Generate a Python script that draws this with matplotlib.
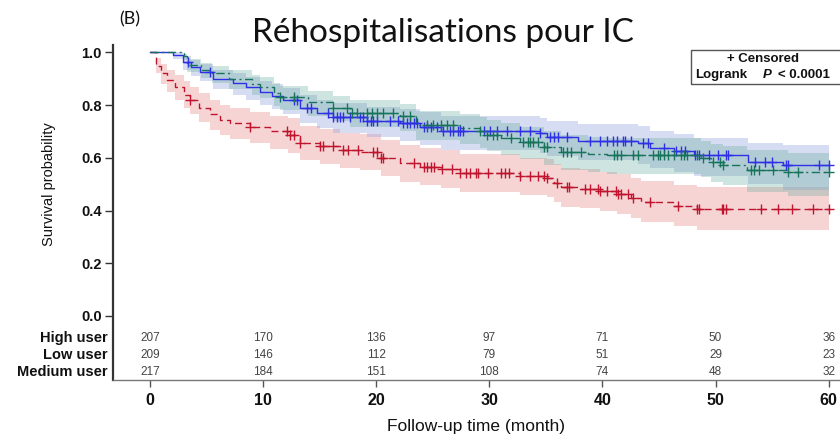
import numpy as np
import matplotlib
matplotlib.use("Agg")
import matplotlib.pyplot as plt
import matplotlib.transforms as mtransforms
from matplotlib.patches import Rectangle

# ---------------- data ----------------
groups = ["High user", "Low user", "Medium user"]

# High user (blue, solid)
high_t  = [0, 2.0, 2.9, 3.6, 4.4, 5.6, 7.3, 8.5, 9.7, 10.8, 11.8, 13.3, 14.8, 16.2, 19.2, 22.1, 23.9, 25.7, 34.5, 35.1, 37.8, 43.1, 44.2, 46.3, 48.1, 52.9, 56.0]
high_s  = [1.0, 0.99, 0.964, 0.945, 0.926, 0.90, 0.884, 0.867, 0.85, 0.835, 0.82, 0.789, 0.77, 0.755, 0.74, 0.732, 0.717, 0.70, 0.694, 0.68, 0.664, 0.655, 0.638, 0.625, 0.611, 0.585, 0.573]
high_lo = [1.0, 0.975, 0.935, 0.912, 0.89, 0.86, 0.84, 0.82, 0.80, 0.785, 0.768, 0.733, 0.712, 0.695, 0.678, 0.665, 0.648, 0.628, 0.62, 0.605, 0.59, 0.578, 0.56, 0.545, 0.53, 0.50, 0.478]
high_hi = [1.0, 1.0, 0.985, 0.97, 0.955, 0.935, 0.922, 0.907, 0.892, 0.88, 0.866, 0.838, 0.82, 0.807, 0.793, 0.787, 0.773, 0.758, 0.752, 0.74, 0.728, 0.72, 0.70, 0.69, 0.675, 0.655, 0.65]
high_cens = [3.4, 5.3, 12.7, 13.0, 13.9, 14.2, 15.7, 16.2, 16.5, 16.8, 17.1, 17.7, 18.6, 18.8, 19.2, 19.5, 19.7, 20.1,
             21.2, 21.9, 22.4, 22.7, 23.0, 23.3, 23.6, 24.2, 24.5, 24.8, 25.4, 25.9, 26.5, 26.8, 27.2, 27.4, 27.7,
             29.5, 30.1, 30.7, 31.6, 32.7, 33.6, 34.5, 35.4, 35.7, 36.1, 36.9, 38.9, 39.8, 40.4, 40.9, 41.3, 41.8,
             42.0, 42.5, 43.6, 44.0, 45.4, 46.5, 46.9, 47.3, 48.2, 48.5, 49.4, 50.2, 50.9, 51.1, 53.5, 54.4, 55.0,
             56.2, 56.4, 59.1, 60.0]

# Low user (red, dashed)
low_t  = [0, 0.5, 1.0, 1.5, 2.2, 3.0, 3.5, 4.3, 5.3, 6.2, 7.1, 8.8, 10.6, 12.2, 13.3, 15.0, 16.8, 18.6, 20.4, 22.1, 23.9, 25.7, 27.4, 32.7, 35.1, 35.7, 36.3, 38.0, 39.8, 41.3, 42.5, 43.4, 46.3, 48.4]
low_s  = [1.0, 0.95, 0.92, 0.895, 0.87, 0.84, 0.82, 0.79, 0.765, 0.745, 0.733, 0.717, 0.70, 0.687, 0.656, 0.645, 0.63, 0.622, 0.60, 0.58, 0.567, 0.558, 0.543, 0.53, 0.523, 0.505, 0.488, 0.482, 0.474, 0.463, 0.448, 0.433, 0.417, 0.406]
low_lo = [1.0, 0.92, 0.88, 0.85, 0.82, 0.79, 0.765, 0.735, 0.705, 0.685, 0.67, 0.655, 0.635, 0.62, 0.59, 0.578, 0.562, 0.553, 0.53, 0.51, 0.497, 0.487, 0.472, 0.458, 0.45, 0.432, 0.415, 0.408, 0.40, 0.388, 0.372, 0.358, 0.34, 0.326]
low_hi = [1.0, 0.98, 0.955, 0.935, 0.915, 0.89, 0.87, 0.845, 0.82, 0.80, 0.79, 0.775, 0.76, 0.75, 0.72, 0.71, 0.695, 0.69, 0.668, 0.65, 0.637, 0.628, 0.614, 0.60, 0.594, 0.578, 0.562, 0.556, 0.548, 0.54, 0.525, 0.512, 0.497, 0.49]
low_cens = [3.5, 8.8, 12.1, 12.4, 12.7, 13.3, 15.0, 15.3, 16.2, 17.1, 17.5, 18.4, 19.7, 20.1, 20.4, 20.6, 23.3,
            24.2, 24.5, 24.8, 25.1, 25.8, 26.7, 27.4, 27.9, 28.3, 28.8, 29.0, 29.9, 31.0, 31.4, 31.7, 32.7, 33.6,
            34.3, 34.8, 35.1, 36.0, 36.9, 37.0, 38.5, 38.9, 39.6, 39.8, 40.4, 41.2, 41.4, 41.6, 42.3, 42.7, 44.2,
            46.7, 48.4, 48.5, 50.6, 50.7, 50.9, 54.0, 55.5, 56.8, 58.6, 60.0]

# Medium user (green, dash-dot)
med_t  = [0, 3.0, 3.3, 4.5, 5.5, 7.0, 9.0, 9.7, 11.0, 11.5, 14.0, 16.2, 17.7, 22.1, 23.5, 27.4, 29.2, 29.8, 31.0, 32.7, 34.8, 36.3, 38.7, 40.4, 48.7, 49.6, 50.7, 52.8, 56.4]
med_s  = [1.0, 0.985, 0.953, 0.935, 0.92, 0.90, 0.88, 0.87, 0.845, 0.83, 0.81, 0.79, 0.77, 0.757, 0.725, 0.713, 0.70, 0.687, 0.675, 0.66, 0.64, 0.622, 0.615, 0.611, 0.60, 0.585, 0.573, 0.554, 0.546]
med_lo = [1.0, 0.97, 0.925, 0.903, 0.885, 0.862, 0.838, 0.826, 0.798, 0.782, 0.76, 0.738, 0.716, 0.70, 0.666, 0.653, 0.638, 0.624, 0.611, 0.595, 0.573, 0.553, 0.545, 0.54, 0.527, 0.51, 0.495, 0.472, 0.455]
med_hi = [1.0, 0.995, 0.975, 0.96, 0.948, 0.932, 0.915, 0.906, 0.885, 0.872, 0.854, 0.836, 0.818, 0.806, 0.777, 0.766, 0.755, 0.743, 0.732, 0.718, 0.70, 0.685, 0.678, 0.675, 0.665, 0.652, 0.643, 0.628, 0.62]
med_cens = [11.5, 12.7, 16.2, 17.4, 17.9, 18.3, 19.2, 19.6, 20.1, 20.6, 21.5, 22.4, 23.0, 24.5, 25.0, 25.7, 26.3,
            26.8, 29.2, 29.8, 30.3, 30.7, 31.9, 33.0, 33.4, 33.6, 33.9, 34.3, 34.8, 35.1, 36.5, 36.9, 37.2, 38.1,
            41.0, 41.3, 41.6, 42.7, 43.1, 44.5, 44.9, 45.1, 45.4, 45.8, 46.3, 46.9, 47.2, 47.5, 48.4, 48.9, 49.8,
            50.4, 50.7, 53.1, 53.4, 53.8, 55.1, 56.4, 57.3, 60.0]

t_end = 60.0
risk_times = [0, 10, 20, 30, 40, 50, 60]
risk_high = [207, 170, 136, 97, 71, 50, 36]
risk_low = [209, 146, 112, 79, 51, 29, 23]
risk_med = [217, 184, 151, 108, 74, 48, 32]

x_ticks = [0, 10, 20, 30, 40, 50, 60]
y_ticks = [0.0, 0.2, 0.4, 0.6, 0.8, 1.0]

title = "Réhospitalisations pour IC"
panel = "(B)"
xlabel = "Follow-up time (month)"
ylabel = "Survival probability"

# ---------------- plot ----------------
plt.rcParams['font.family'] = ['Liberation Sans', 'DejaVu Sans']
fig = plt.figure(figsize=(8.4, 4.36), dpi=100)
ax = fig.add_axes([0.1345, 0.1284, 0.8655, 0.7684])
ax.set_xlim(-3.27, 61.0)
ax.set_ylim(-0.243, 1.028)

series = [
    (low_t, low_s, low_lo, low_hi, low_cens, '#C0142E', '#E06666', 0.28, (0, (5, 3))),
    (high_t, high_s, high_lo, high_hi, high_cens, '#2F2FE6', '#9AA9DC', 0.40, '-'),
    (med_t, med_s, med_lo, med_hi, med_cens, '#17735A', '#5FA89A', 0.30, (0, (6, 2.5, 1.5, 2.5))),
]

for t, s, lo, hi, cens, lc, fc, fa, ls in series:
    tt = np.array(list(t) + [t_end])
    ll = np.array(list(lo) + [lo[-1]])
    hh = np.array(list(hi) + [hi[-1]])
    ax.fill_between(tt, ll, hh, step='post', color=fc, alpha=fa, lw=0, zorder=1)

for t, s, lo, hi, cens, lc, fc, fa, ls in series:
    tt = np.array(list(t) + [t_end])
    ss = np.array(list(s) + [s[-1]])
    ax.step(tt, ss, where='post', color=lc, lw=1.0, linestyle=ls, zorder=3)
    tarr = np.array(t)
    c = np.array(cens)
    idx = np.searchsorted(tarr, c, side='right') - 1
    ax.plot(c, np.array(s)[idx], linestyle='none', marker='+', color=lc, ms=6.5, mew=1.0, zorder=4)

# axes styling
for sp in ['top', 'right']:
    ax.spines[sp].set_visible(False)
ax.spines['left'].set_color('#333333')
ax.spines['left'].set_linewidth(1.6)
ax.spines['bottom'].set_color('#777777')
ax.spines['bottom'].set_linewidth(1.0)

ax.set_yticks(y_ticks)
ax.set_yticklabels([f"{v:.1f}" for v in y_ticks])
ax.set_xticks(x_ticks)
ax.tick_params(axis='y', direction='out', length=6, width=1.0, color='#333333', labelsize=10.5, pad=2)
ax.tick_params(axis='x', direction='out', length=5, width=1.0, color='#555555', labelsize=11.5, pad=4)
for lab in ax.get_xticklabels() + ax.get_yticklabels():
    lab.set_fontweight('bold')
    lab.set_color('#111111')

# risk table
trans = mtransforms.blended_transform_factory(ax.transAxes, ax.transData)
rows = [(groups[0], risk_high, -0.0835), (groups[1], risk_low, -0.148), (groups[2], risk_med, -0.2125)]
for name, vals, yy in rows:
    ax.text(-0.007, yy, name, transform=trans, ha='right', va='center', fontsize=10.5, fontweight='bold', color='#111111')
    for xt, v in zip(risk_times, vals):
        ax.text(xt, yy, str(v), ha='center', va='center', fontsize=8.5, color='#444444')

ax.set_xlabel(xlabel, fontsize=12.5, labelpad=8, color='#111111')
ax.set_ylabel(ylabel, fontsize=10.5, color='#111111')
ax.yaxis.set_label_coords(-0.078, 0.585)

fig.text(0.527, 0.925, title, ha='center', va='center', fontsize=24, family=['Lato', 'DejaVu Sans'], color='#111111')
fig.text(0.142, 0.956, panel, ha='left', va='center', fontsize=13, family=['Lato', 'DejaVu Sans'], color='#111111')

# legend box
fig.add_artist(Rectangle((691/840, 1 - 84/436), 160/840, 34/436, transform=fig.transFigure,
                         fill=False, edgecolor='#555555', lw=1.0, zorder=5))
fig.text(763/840, 1 - 59/436, "+ Censored", ha='center', va='center', fontsize=9.5, fontweight='bold', color='#111111')
fig.text(695/840, 1 - 75/436, "Logrank", ha='left', va='center', fontsize=9.5, fontweight='bold', color='#111111')
fig.text(763/840, 1 - 75/436, "P", ha='left', va='center', fontsize=9.5, fontweight='bold', style='italic', color='#111111')
fig.text(778/840, 1 - 75/436, "< 0.0001", ha='left', va='center', fontsize=9.5, fontweight='bold', color='#111111')

fig.savefig("out.png", dpi=100)
